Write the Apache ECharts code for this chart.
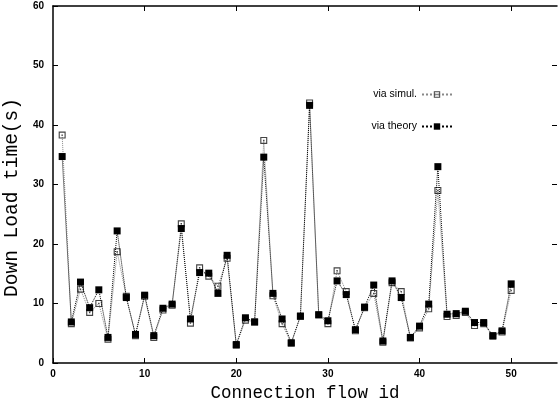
<!DOCTYPE html>
<html>
<head>
<meta charset="utf-8">
<script src="https://cdn.jsdelivr.net/npm/echarts@6/dist/echarts.min.js"></script>
<style>
  html, body { margin: 0; padding: 0; background: #fff; }
  #chart { width: 558px; height: 405px; }
</style>
</head>
<body>
<div id="chart"></div>
<script>
const flowIds = [1, 2, 3, 4, 5, 6, 7, 8, 9, 10, 11, 12, 13, 14, 15, 16, 17, 18, 19, 20,
  21, 22, 23, 24, 25, 26, 27, 28, 29, 30, 31, 32, 33, 34, 35, 36, 37, 38, 39, 40,
  41, 42, 43, 44, 45, 46, 47, 48, 49, 50]
const viaSimul = [38.3, 6.6, 12.4, 8.5, 10.0, 4.0, 18.7, 11.2, 4.6, 11.2, 4.3, 8.9, 9.7, 23.4, 6.7, 16.0, 14.6, 12.9, 17.6, 3.0,
  7.2, 6.9, 37.4, 11.3, 6.6, 3.3, 7.8, 43.7, 8.1, 6.6, 15.5, 12.0, 5.4, 9.3, 11.7, 3.5, 13.5, 12.0, 4.2, 5.9,
  9.1, 29.0, 7.8, 8.0, 8.5, 6.3, 6.6, 4.5, 5.2, 12.2]
const viaTheory = [34.7, 6.9, 13.6, 9.3, 12.3, 4.3, 22.2, 11.0, 4.8, 11.4, 4.6, 9.2, 9.9, 22.6, 7.4, 15.2, 15.1, 11.7, 18.1, 3.1,
  7.6, 6.9, 34.6, 11.7, 7.4, 3.4, 7.9, 43.3, 8.1, 7.1, 13.8, 11.5, 5.6, 9.4, 13.1, 3.7, 13.8, 11.0, 4.3, 6.2,
  9.9, 33.0, 8.2, 8.3, 8.7, 6.8, 6.8, 4.6, 5.4, 13.3]
const xTicks = [0, 10, 20, 30, 40, 50]
const yTicks = [0, 10, 20, 30, 40, 50, 60]

const tickFont = { color: '#000', fontFamily: 'Liberation Sans', fontWeight: 'bold', fontSize: 10 }
const frameLine = { onZero: false, lineStyle: { color: '#000', width: 1.5 } }
const innerTick = { show: true, inside: true, length: 5, lineStyle: { color: '#000' } }
// hollow square with a dot in the middle
const boxDot = 'path://M0,0H10V10H0Z M1.6,1.6V8.4H8.4V1.6Z M4,4H6V6H4Z'

const chart = echarts.init(document.getElementById('chart'))

chart.setOption({
  animation: false,
  backgroundColor: '#fff',
  grid: { left: 53, right: 1, top: 6, bottom: 42, outerBoundsMode: 'none' },
  legend: {
    orient: 'vertical',
    right: 100,
    top: 84,
    align: 'right',
    itemWidth: 30,
    itemHeight: 8,
    itemGap: 21,
    textStyle: { color: '#000', fontFamily: 'Liberation Sans', fontSize: 10.5 },
    data: ['via simul.', 'via theory']
  },
  xAxis: [
    {
      type: 'value',
      min: 0,
      max: 55,
      interval: 10,
      name: 'Connection flow id',
      nameLocation: 'middle',
      nameGap: 18,
      nameTextStyle: { color: '#000', fontFamily: 'Liberation Mono', fontSize: 17.5 },
      axisLine: frameLine,
      axisTick: { ...innerTick, customValues: xTicks },
      axisLabel: { ...tickFont, margin: 6, customValues: xTicks },
      splitLine: { show: false }
    },
    {
      type: 'value',
      position: 'top',
      min: 0,
      max: 55,
      interval: 10,
      axisLine: { show: true, ...frameLine },
      axisTick: { ...innerTick, customValues: [10, 20, 30, 40, 50] },
      axisLabel: { show: false },
      splitLine: { show: false }
    }
  ],
  yAxis: [
    {
      type: 'value',
      min: 0,
      max: 60,
      interval: 10,
      name: 'Down Load time(s)',
      nameLocation: 'middle',
      nameGap: 30,
      nameTextStyle: { color: '#000', fontFamily: 'Liberation Mono', fontSize: 19.5, padding: [0, 26, 0, 0] },
      axisLine: { show: true, ...frameLine },
      axisTick: { ...innerTick, customValues: yTicks },
      axisLabel: { ...tickFont, margin: 9, customValues: yTicks },
      splitLine: { show: false }
    },
    {
      type: 'value',
      position: 'right',
      min: 0,
      max: 60,
      interval: 10,
      axisLine: { show: false, onZero: false },
      axisTick: { ...innerTick, customValues: [10, 20, 30, 40, 50] },
      axisLabel: { show: false },
      splitLine: { show: false }
    }
  ],
  series: [
    {
      name: 'via simul.',
      type: 'line',
      z: 2,
      data: flowIds.map((id, i) => [id, viaSimul[i]]),
      symbol: boxDot,
      symbolSize: 7,
      showAllSymbol: true,
      itemStyle: { color: '#444' },
      lineStyle: { color: '#888', width: 1, type: 'dotted' }
    },
    {
      name: 'via theory',
      type: 'line',
      z: 3,
      data: flowIds.map((id, i) => [id, viaTheory[i]]),
      symbol: 'rect',
      symbolSize: 7,
      showAllSymbol: true,
      itemStyle: { color: '#000' },
      lineStyle: { color: '#000', width: 1, type: 'dotted' }
    }
  ]
})
</script>
</body>
</html>
